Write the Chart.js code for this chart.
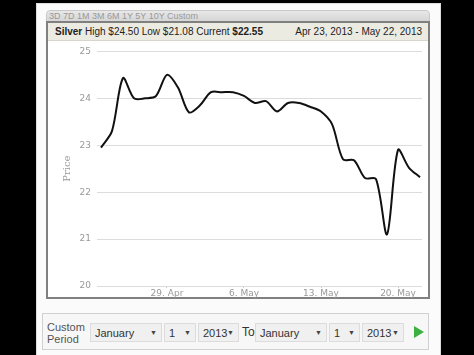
<!DOCTYPE html>
<html>
<head>
<meta charset="utf-8">
<script src="https://cdn.jsdelivr.net/npm/chart.js@4/dist/chart.umd.min.js"></script>
<style>
  body { margin: 0; background: #000; width: 474px; height: 355px; overflow: hidden; font-family: "Liberation Sans", Arial, sans-serif; }
  .abs { position: absolute; }
  #panel { left: 36px; top: 3px; width: 405px; height: 360px; background: #fbfbfb; border: 1px solid #ddd; box-sizing: border-box; }
  #tabs { left: 46px; top: 10px; width: 384px; height: 13px; background: linear-gradient(#e8e8e8, #d4d4d4); border-radius: 4px 4px 0 0; border: 1px solid #c8c8c8; box-sizing: border-box; font-size: 9px; color: #999; line-height: 11px; padding-left: 2px; }
  #box { left: 46px; top: 21px; width: 384px; height: 278px; background: #fff; border: 2px solid #808080; box-sizing: border-box; }
  #head { left: 48px; top: 23px; width: 380px; height: 17px; background: #ecebe2; border-bottom: 1px solid #d8d6cc; font-size: 10px; color: #222; line-height: 18px; }
  #head .l { position: absolute; left: 7px; }
  #head .r { position: absolute; right: 6px; }
  #wrap { left: 49px; top: 40px; width: 378px; height: 262px; }
  #ctrl { left: 42px; top: 313px; width: 387px; height: 37px; border: 1px solid #d0d0d0; background: #f7f7f7; box-sizing: border-box; }
  .lbl { font-size: 11px; color: #555; line-height: 12px; }
  .sel { top: 323px; height: 19px; background: #f0f0f0; border: 1px solid #dcdcdc; box-sizing: border-box; font-size: 11px; color: #333; line-height: 18px; padding-left: 4px; }
  .sel span { position: absolute; right: 4px; font-size: 7px; color: #444; }
</style>
</head>
<body>
<div id="panel" class="abs"></div>
<div id="tabs" class="abs">3D 7D 1M 3M 6M 1Y 5Y 10Y Custom</div>
<div id="box" class="abs"></div>
<div id="head" class="abs"><span class="l"><b>Silver</b> High $24.50 Low $21.08 Current <b>$22.55</b></span><span class="r">Apr 23, 2013 - May 22, 2013</span></div>
<div id="wrap" class="abs"><canvas id="c" width="378" height="262"></canvas></div>
<div id="ctrl" class="abs"></div>
<div class="abs lbl" style="left:47px;top:321px;">Custom<br>Period</div>
<div class="abs sel" style="left:90px;width:72px;">January<span>&#9660;</span></div>
<div class="abs sel" style="left:164px;width:32px;">1<span>&#9660;</span></div>
<div class="abs sel" style="left:198px;width:41px;">2013<span>&#9660;</span></div>
<div class="abs lbl" style="left:242px;top:326px;font-size:12px;color:#333;">To</div>
<div class="abs sel" style="left:255px;width:72px;">January<span>&#9660;</span></div>
<div class="abs sel" style="left:329px;width:31px;">1<span>&#9660;</span></div>
<div class="abs sel" style="left:362px;width:42px;">2013<span>&#9660;</span></div>
<div class="abs" style="left:414px;top:326px;width:0;height:0;border-top:6px solid transparent;border-bottom:6px solid transparent;border-left:10px solid #3cb043;"></div>
<script>
// day index from Apr 23, 2013 (calendar days)
var days = [0,1,2,3,4,5,6,7,8,9,10,11,12,13,14,15,16,17,18,19,20,21,22,23,24,25,26,27,28,29];
var prices = [22.95, 23.3, 24.43, 24.0, 24.0, 24.05, 24.5, 24.23, 23.7, 23.85,
              24.13, 24.13, 24.13, 24.05, 23.9, 23.94, 23.72, 23.9, 23.9, 23.82,
              23.72, 23.45, 22.7, 22.68, 22.3, 22.28, 21.1, 22.9, 22.52, 22.32];
var tickDays = [6, 13, 20, 27];
var tickLabels = ['29. Apr', '6. May', '13. May', '20. May'];
var priceTicks = [20, 21, 22, 23, 24, 25];

var ctx = document.getElementById('c').getContext('2d');
var chart = new Chart(ctx, {
  type: 'line',
  data: {
    datasets: [{
      label: 'Silver',
      data: days.map(function(d, i) { return {x: d, y: prices[i]}; }),
      borderColor: '#111',
      borderWidth: 2,
      pointRadius: 0,
      tension: 0.3,
      fill: false
    }]
  },
  options: {
    responsive: false,
    animation: false,
    layout: { padding: { top: 11, right: 5, left: 0, bottom: 0 } },
    plugins: { legend: { display: false }, tooltip: { enabled: false } },
    scales: {
      x: {
        type: 'linear',
        min: -0.36,
        max: 29.18,
        afterBuildTicks: function(scale) {
          scale.ticks = tickDays.map(function(v) { return {value: v}; });
        },
        afterFit: function(scale) { scale.height = 16; },
        ticks: {
          autoSkip: false,
          maxRotation: 0,
          padding: 0,
          color: '#999',
          font: { family: 'DejaVu Sans', size: 9 },
          callback: function(v) { return tickLabels[tickDays.indexOf(v)]; }
        },
        grid: { drawOnChartArea: false, tickLength: 2, color: '#ccc' },
        border: { display: false }
      },
      y: {
        min: 20,
        max: 25,
        afterBuildTicks: function(scale) {
          scale.ticks = priceTicks.map(function(v) { return {value: v}; });
        },
        afterFit: function(scale) { scale.width = 48; },
        title: {
          display: true,
          text: 'Price',
          color: '#999',
          font: { family: 'DejaVu Serif', size: 10 },
          padding: { top: 12, bottom: 0 }
        },
        ticks: {
          padding: 6,
          color: '#999',
          font: { family: 'DejaVu Sans', size: 9 }
        },
        grid: { color: '#dcdcdc', lineWidth: 1, drawTicks: false },
        border: { display: false }
      }
    }
  }
});
</script>
</body>
</html>
